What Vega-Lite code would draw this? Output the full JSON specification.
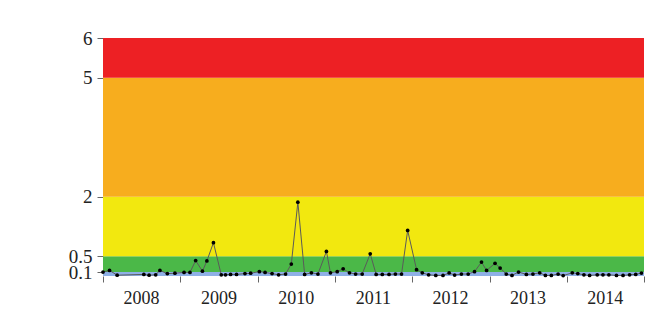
{
  "$schema": "https://vega.github.io/schema/vega-lite/v6.json",
  "width": 541,
  "height": 238,
  "autosize": {"type": "none"},
  "padding": {"left": 103, "top": 38, "right": 7, "bottom": 48},
  "background": "white",
  "config": {"view": {"stroke": null}},
  "datasets": {
    "bands": [
      {"level": "blue", "lo": 0, "hi": 0.1},
      {"level": "green", "lo": 0.1, "hi": 0.5},
      {"level": "yellow", "lo": 0.5, "hi": 2},
      {"level": "orange", "lo": 2, "hi": 5},
      {"level": "red", "lo": 5, "hi": 6}
    ],
    "series": [
      {"date": "2008-01-01", "v": 0.10},
      {"date": "2008-02-01", "v": 0.14},
      {"date": "2008-03-08", "v": 0.02},
      {"date": "2008-07-12", "v": 0.04},
      {"date": "2008-08-06", "v": 0.02},
      {"date": "2008-09-06", "v": 0.03},
      {"date": "2008-09-26", "v": 0.14},
      {"date": "2008-10-31", "v": 0.06},
      {"date": "2008-12-06", "v": 0.07},
      {"date": "2009-01-18", "v": 0.09},
      {"date": "2009-02-15", "v": 0.09},
      {"date": "2009-03-14", "v": 0.39},
      {"date": "2009-04-15", "v": 0.12},
      {"date": "2009-05-06", "v": 0.38},
      {"date": "2009-06-06", "v": 0.84},
      {"date": "2009-07-13", "v": 0.03},
      {"date": "2009-08-02", "v": 0.03},
      {"date": "2009-08-26", "v": 0.04},
      {"date": "2009-09-23", "v": 0.04},
      {"date": "2009-11-02", "v": 0.06},
      {"date": "2009-11-29", "v": 0.07},
      {"date": "2010-01-09", "v": 0.11},
      {"date": "2010-02-05", "v": 0.09},
      {"date": "2010-03-10", "v": 0.06},
      {"date": "2010-04-10", "v": 0.03},
      {"date": "2010-05-13", "v": 0.05},
      {"date": "2010-06-09", "v": 0.30},
      {"date": "2010-07-10", "v": 1.86},
      {"date": "2010-08-11", "v": 0.04},
      {"date": "2010-09-12", "v": 0.08},
      {"date": "2010-10-13", "v": 0.05},
      {"date": "2010-11-22", "v": 0.62},
      {"date": "2010-12-11", "v": 0.08},
      {"date": "2011-01-12", "v": 0.11},
      {"date": "2011-02-09", "v": 0.18},
      {"date": "2011-03-11", "v": 0.08},
      {"date": "2011-04-09", "v": 0.05},
      {"date": "2011-05-10", "v": 0.05},
      {"date": "2011-06-17", "v": 0.56},
      {"date": "2011-07-15", "v": 0.04},
      {"date": "2011-08-13", "v": 0.04},
      {"date": "2011-09-14", "v": 0.04},
      {"date": "2011-10-14", "v": 0.05},
      {"date": "2011-11-12", "v": 0.05},
      {"date": "2011-12-11", "v": 1.15},
      {"date": "2012-01-22", "v": 0.16},
      {"date": "2012-02-18", "v": 0.08},
      {"date": "2012-03-19", "v": 0.03},
      {"date": "2012-04-22", "v": 0.015},
      {"date": "2012-05-26", "v": 0.015},
      {"date": "2012-06-24", "v": 0.076},
      {"date": "2012-07-20", "v": 0.025},
      {"date": "2012-08-21", "v": 0.05},
      {"date": "2012-09-22", "v": 0.05},
      {"date": "2012-10-22", "v": 0.11},
      {"date": "2012-11-24", "v": 0.35},
      {"date": "2012-12-18", "v": 0.14},
      {"date": "2013-01-27", "v": 0.32},
      {"date": "2013-02-20", "v": 0.20},
      {"date": "2013-03-21", "v": 0.05},
      {"date": "2013-04-17", "v": 0.015},
      {"date": "2013-05-18", "v": 0.10},
      {"date": "2013-06-24", "v": 0.04},
      {"date": "2013-07-25", "v": 0.05},
      {"date": "2013-08-26", "v": 0.08},
      {"date": "2013-09-22", "v": 0.015},
      {"date": "2013-10-20", "v": 0.015},
      {"date": "2013-11-21", "v": 0.05},
      {"date": "2013-12-15", "v": 0.01},
      {"date": "2014-01-27", "v": 0.08},
      {"date": "2014-02-22", "v": 0.06},
      {"date": "2014-03-23", "v": 0.03},
      {"date": "2014-04-19", "v": 0.015},
      {"date": "2014-05-25", "v": 0.03},
      {"date": "2014-06-21", "v": 0.03},
      {"date": "2014-07-19", "v": 0.03},
      {"date": "2014-08-24", "v": 0.015},
      {"date": "2014-09-24", "v": 0.015},
      {"date": "2014-10-25", "v": 0.03},
      {"date": "2014-11-23", "v": 0.04},
      {"date": "2014-12-20", "v": 0.075}
    ]
  },
  "layer": [
    {
      "data": {"name": "bands"},
      "mark": {"type": "rect"},
      "encoding": {
        "y": {
          "field": "lo",
          "type": "quantitative",
          "scale": {"domain": [0, 6], "nice": false, "zero": true},
          "axis": {
            "values": [0.1, 0.5, 2, 5, 6],
            "format": "~g",
            "title": null,
            "grid": false,
            "domain": false,
            "tickSize": 6,
            "tickColor": "#666",
            "labelPadding": 5,
            "labelFont": "Liberation Serif",
            "labelFontSize": 19,
            "labelColor": "#222",
            "labelOverlap": false,
            "labelBound": false
          }
        },
        "y2": {"field": "hi"},
        "color": {
          "field": "level",
          "type": "nominal",
          "scale": {
            "domain": ["blue", "green", "yellow", "orange", "red"],
            "range": ["#8fb0e6", "#4bb848", "#f2e80f", "#f7ad1e", "#ed2024"]
          },
          "legend": null
        }
      }
    },
    {
      "data": {"name": "series"},
      "mark": {"type": "line", "color": "#5a5a5a", "strokeWidth": 1},
      "encoding": {
        "x": {
          "field": "date",
          "type": "temporal",
          "scale": {"domain": ["2008-01-01", "2015-01-01"], "nice": false},
          "axis": {
            "title": null,
            "grid": false,
            "domain": false,
            "tickCount": {"interval": "year", "step": 1},
            "tickSize": 6,
            "tickColor": "#666",
            "labelOffset": 38,
            "labelPadding": 7,
            "labelFont": "Liberation Serif",
            "labelFontSize": 18,
            "labelColor": "#222",
            "labelFlush": false,
            "labelOverlap": false,
            "labelBound": false,
            "labelExpr": "year(datum.value) >= 2015 ? '' : timeFormat(datum.value, '%Y')"
          }
        },
        "y": {"field": "v", "type": "quantitative"}
      }
    },
    {
      "data": {"name": "series"},
      "mark": {"type": "circle", "color": "black", "size": 14, "opacity": 1},
      "encoding": {
        "x": {"field": "date", "type": "temporal"},
        "y": {"field": "v", "type": "quantitative"}
      }
    }
  ]
}
